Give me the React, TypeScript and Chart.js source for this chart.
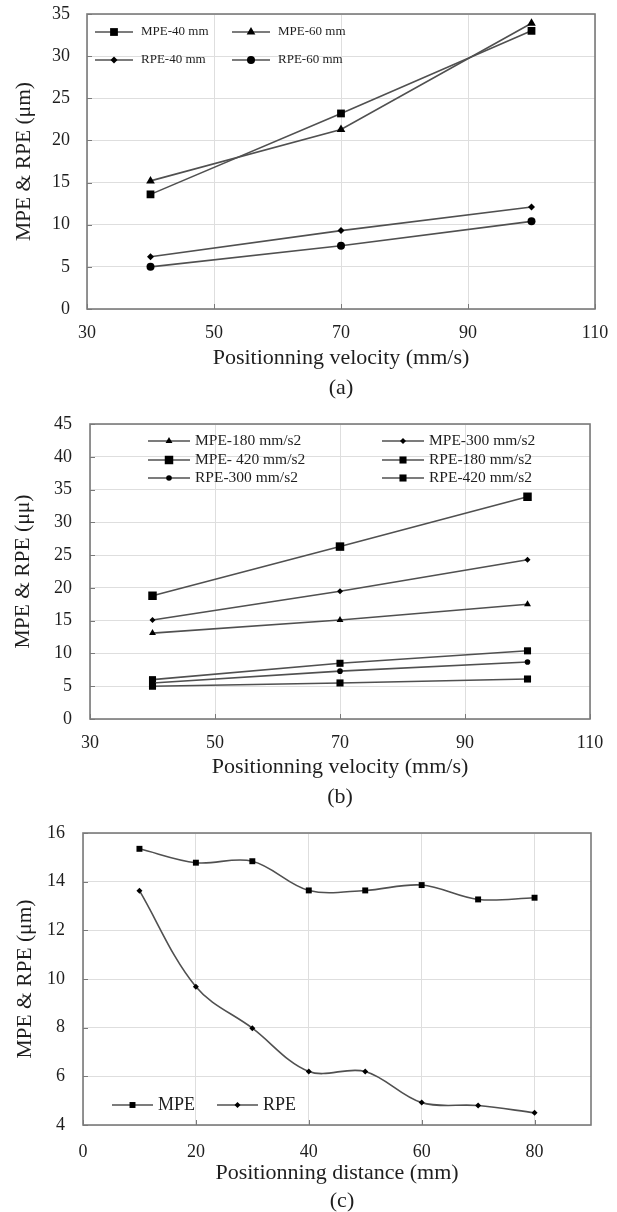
import React, { useEffect, useRef } from 'react';
import { Chart, registerables } from 'chart.js';
import { drawPoint } from 'chart.js/helpers';

Chart.register(...registerables);

const FONT = "'Liberation Serif', 'Times New Roman', Times, serif";
const TEXT = '#1e1e1e';
const LINE = '#505050';
const GRID = '#dedede';
const FRAME = '#7a7a7a';

// ---------- (a) ----------
const velocityA = [40, 70, 100];
const mpe40mm = [13.6, 23.2, 33.0];
const mpe60mm = [15.2, 21.3, 33.9];
const rpe40mm = [6.2, 9.3, 12.1];
const rpe60mm = [5.0, 7.5, 10.4];
const labelsA = ['MPE-40 mm', 'MPE-60 mm', 'RPE-40 mm', 'RPE-60 mm'];

// ---------- (b) ----------
const velocityB = [40, 70, 100];
const mpe180 = [13.1, 15.1, 17.5];
const mpe300 = [15.1, 19.5, 24.3];
const mpe420 = [18.8, 26.3, 33.9];
const rpe180 = [5.0, 5.5, 6.1];
const rpe300 = [5.5, 7.3, 8.7];
const rpe420 = [6.0, 8.5, 10.4];
const labelsB = ['MPE-180 mm/s2', 'MPE-300 mm/s2', 'MPE- 420 mm/s2', 'RPE-180 mm/s2', 'RPE-300 mm/s2', 'RPE-420 mm/s2'];

// ---------- (c) ----------
const distanceC = [10, 20, 30, 40, 50, 60, 70, 80];
const mpeC = [15.35, 14.78, 14.84, 13.64, 13.64, 13.86, 13.27, 13.34];
const rpeC = [13.63, 9.68, 7.98, 6.2, 6.2, 4.92, 4.8, 4.5];
const labelsC = ['MPE', 'RPE'];

const xTitleAB = 'Positionning velocity (mm/s)';
const xTitleC = 'Positionning distance (mm)';
const yTitleA = 'MPE & RPE (μm)';
const yTitleB = 'MPE & RPE (μμ)';
const yTitleC = 'MPE & RPE (μm)';

function pts(xs: number[], ys: number[]) {
  return xs.map((x, i) => ({ x, y: ys[i] }));
}

function ds(label: string, xs: number[], ys: number[], pointStyle: string, radius: number, tension = 0) {
  return {
    label,
    data: pts(xs, ys),
    borderColor: LINE,
    borderWidth: 1.6,
    pointStyle,
    pointRadius: radius,
    pointBackgroundColor: '#000',
    pointBorderColor: '#000',
    pointBorderWidth: 0,
    pointHoverRadius: radius,
    tension,
    fill: false,
  };
}

interface Spec {
  H: number;
  left: number; right: number; top: number; bottom: number;
  xMin: number; xMax: number; xStep: number; xIncludeBounds: boolean;
  yMin: number; yMax: number; yStep: number;
  xTitle: string; yTitle: string;
  xTickPad: number; yTickPad: number; xTitlePadBottom: number; yTitlePadTop: number;
  legend: { rows: number[]; cols: number[]; lineLen: number; gap: number; size: number };
  caption: { text: string; x: number; y: number };
  datasets: any[];
}

function framePlugin(spec: Spec) {
  return {
    id: 'frameAndLegend',
    beforeDatasetsDraw(chart: any) {
      const { ctx, chartArea: a, scales } = chart;
      ctx.save();
      ctx.strokeStyle = FRAME;
      ctx.lineWidth = 1;
      ctx.beginPath();
      scales.x.ticks.forEach((t: any) => {
        const px = Math.round(scales.x.getPixelForValue(t.value)) + 0.5;
        ctx.moveTo(px, a.bottom);
        ctx.lineTo(px, a.bottom - 5);
      });
      scales.y.ticks.forEach((t: any) => {
        const py = Math.round(scales.y.getPixelForValue(t.value)) + 0.5;
        ctx.moveTo(a.left, py);
        ctx.lineTo(a.left + 5, py);
      });
      ctx.stroke();
      ctx.lineWidth = 1.6;
      ctx.strokeRect(a.left, a.top, a.right - a.left, a.bottom - a.top);
      ctx.restore();
    },
    afterDraw(chart: any) {
      const { ctx } = chart;
      const L = spec.legend;
      ctx.save();
      chart.data.datasets.forEach((d: any, i: number) => {
        const r = Math.floor(i / L.cols.length);
        const c = i % L.cols.length;
        const y = L.rows[r];
        const x0 = L.cols[c];
        ctx.strokeStyle = LINE;
        ctx.lineWidth = d.borderWidth;
        ctx.beginPath();
        ctx.moveTo(x0, y);
        ctx.lineTo(x0 + L.lineLen, y);
        ctx.stroke();
        ctx.fillStyle = '#000';
        ctx.strokeStyle = '#000';
        drawPoint(ctx, { pointStyle: d.pointStyle, radius: d.pointRadius, borderWidth: 0, rotation: 0 } as any, x0 + L.lineLen / 2, y);
        ctx.fillStyle = TEXT;
        ctx.font = `${L.size}px ${FONT}`;
        ctx.textBaseline = 'middle';
        ctx.textAlign = 'left';
        ctx.fillText(d.label, x0 + L.lineLen + L.gap, y);
      });
      ctx.fillStyle = TEXT;
      ctx.font = `22px ${FONT}`;
      ctx.textAlign = 'center';
      ctx.textBaseline = 'middle';
      ctx.fillText(spec.caption.text, spec.caption.x, spec.caption.y);
      ctx.restore();
    },
  };
}

function buildConfig(spec: Spec): any {
  const W = 617;
  const tickFont = { family: FONT, size: 18 };
  return {
    type: 'line',
    data: { datasets: spec.datasets },
    options: {
      animation: false,
      responsive: false,
      devicePixelRatio: 1,
      events: [],
      layout: { padding: { left: 0, top: spec.top, right: W - spec.right, bottom: 0 } },
      plugins: { legend: { display: false }, tooltip: { enabled: false } },
      scales: {
        x: {
          type: 'linear',
          position: 'bottom',
          min: spec.xMin,
          max: spec.xMax,
          ticks: {
            stepSize: spec.xStep,
            includeBounds: spec.xIncludeBounds,
            padding: spec.xTickPad,
            font: tickFont,
            color: TEXT,
            maxRotation: 0,
            autoSkip: false,
          },
          grid: { color: GRID, lineWidth: 1, drawTicks: false },
          border: { display: false },
          title: {
            display: true,
            text: spec.xTitle,
            font: { family: FONT, size: 22 },
            color: TEXT,
            padding: { top: 0, bottom: spec.xTitlePadBottom },
          },
          afterFit: (s: any) => {
            s.height = spec.H - spec.bottom;
            s.paddingLeft = 0;
            s.paddingRight = 0;
          },
        },
        y: {
          type: 'linear',
          position: 'left',
          min: spec.yMin,
          max: spec.yMax,
          ticks: {
            stepSize: spec.yStep,
            padding: spec.yTickPad,
            font: tickFont,
            color: TEXT,
            autoSkip: false,
          },
          grid: { color: GRID, lineWidth: 1, drawTicks: false },
          border: { display: false },
          title: {
            display: true,
            text: spec.yTitle,
            font: { family: FONT, size: 21.5 },
            color: TEXT,
            padding: { top: spec.yTitlePadTop, bottom: 0 },
          },
          afterFit: (s: any) => {
            s.width = spec.left;
            s.paddingTop = 0;
            s.paddingBottom = 0;
          },
        },
      },
    },
    plugins: [framePlugin(spec)],
  };
}

const specA: Spec = {
  H: 400, left: 87, right: 595, top: 14, bottom: 309,
  xMin: 30, xMax: 110, xStep: 20, xIncludeBounds: true,
  yMin: 0, yMax: 35, yStep: 5,
  xTitle: xTitleAB, yTitle: yTitleA,
  xTickPad: 13, yTickPad: 17, xTitlePadBottom: 28.8, yTitlePadTop: 11.1,
  legend: { rows: [32, 60], cols: [95, 232], lineLen: 38, gap: 8, size: 13 },
  caption: { text: '(a)', x: 341, y: 388 },
  datasets: [
    ds(labelsA[0], velocityA, mpe40mm, 'rect', 5.5),
    ds(labelsA[1], velocityA, mpe60mm, 'triangle', 5),
    ds(labelsA[2], velocityA, rpe40mm, 'rectRot', 3.5),
    ds(labelsA[3], velocityA, rpe60mm, 'circle', 4),
  ],
};

const specB: Spec = {
  H: 410, left: 90, right: 590, top: 24, bottom: 319,
  xMin: 30, xMax: 110, xStep: 20, xIncludeBounds: true,
  yMin: 0, yMax: 45, yStep: 5,
  xTitle: xTitleAB, yTitle: yTitleB,
  xTickPad: 13, yTickPad: 18, xTitlePadBottom: 29.8, yTitlePadTop: 10.1,
  legend: { rows: [41, 60, 78], cols: [148, 382], lineLen: 42, gap: 5, size: 15.5 },
  caption: { text: '(b)', x: 340, y: 397 },
  datasets: [
    ds(labelsB[0], velocityB, mpe180, 'triangle', 4),
    ds(labelsB[1], velocityB, mpe300, 'rectRot', 3),
    ds(labelsB[2], velocityB, mpe420, 'rect', 6),
    ds(labelsB[3], velocityB, rpe180, 'rect', 5),
    ds(labelsB[4], velocityB, rpe300, 'circle', 2.8),
    ds(labelsB[5], velocityB, rpe420, 'rect', 5),
  ],
};

const specC: Spec = {
  H: 402, left: 83, right: 591, top: 23, bottom: 315,
  xMin: 0, xMax: 90, xStep: 20, xIncludeBounds: false,
  yMin: 4, yMax: 16, yStep: 2,
  xTitle: xTitleC, yTitle: yTitleC,
  xTickPad: 16, yTickPad: 18, xTitlePadBottom: 25.8, yTitlePadTop: 12.1,
  legend: { rows: [295], cols: [112, 217], lineLen: 41, gap: 5, size: 18 },
  caption: { text: '(c)', x: 342, y: 391 },
  datasets: [
    ds(labelsC[0], distanceC, mpeC, 'rect', 4.2, 0.35),
    ds(labelsC[1], distanceC, rpeC, 'rectRot', 3, 0.35),
  ],
};

function ChartCanvas({ spec, top }: { spec: Spec; top: number }) {
  const ref = useRef<HTMLCanvasElement>(null);
  useEffect(() => {
    const chart = new Chart(ref.current as HTMLCanvasElement, buildConfig(spec));
    return () => chart.destroy();
  }, [spec]);
  return (
    <canvas
      ref={ref}
      width={617}
      height={spec.H}
      style={{ position: 'absolute', left: 0, top, width: 617, height: spec.H, display: 'block' }}
    />
  );
}

export default function App() {
  return (
    <div style={{ position: 'absolute', left: 0, top: 0, width: 617, height: 1212, background: '#fff', overflow: 'hidden' }}>
      <ChartCanvas spec={specA} top={0} />
      <ChartCanvas spec={specB} top={400} />
      <ChartCanvas spec={specC} top={810} />
    </div>
  );
}
